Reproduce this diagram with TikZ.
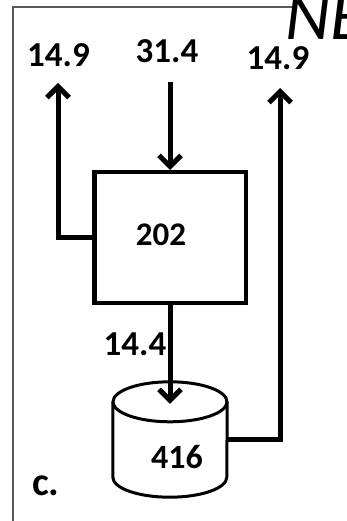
\documentclass[tikz,border=0pt]{standalone}
\usepackage{fontspec}
\setmainfont{Carlito}
\usetikzlibrary{arrows.meta}
\begin{document}
\begin{tikzpicture}[x=1pt,y=-1pt,
  lab/.style={font=\bfseries\fontsize{35}{35}\selectfont, inner sep=0pt, anchor=base},
  flow/.style={line width=5pt, -{Straight Barb[length=11pt,width=22pt]}},
  boxst/.style={draw, line width=4.5pt, minimum width=151.5pt, minimum height=130.5pt, inner sep=0pt},
]
\useasboundingbox (0,0) rectangle (347,521);
% frame
\draw[gray!70!black, line width=1.5pt] (13,521) -- (13,7) -- (295,7);
% title
\node[font=\itshape\fontsize{70}{70}\selectfont, anchor=base west, inner sep=0pt] (ne) at (285,40) {NE};
% process box
\node[boxst] (box) at (170,237.5) {};
\node[lab, font=\bfseries\fontsize{33}{33}\selectfont] (t202) at (161,245) {202};
% storage cylinder
\node[minimum width=114pt, minimum height=75pt, inner sep=0pt] (cyl) at (170,439.5) {};
\draw[line width=3pt, fill=white] (cyl.north west) -- (cyl.south west)
  arc[start angle=180, end angle=360, x radius=57pt, y radius=20pt] -- (cyl.north east);
\draw[line width=3pt] (cyl.north) ellipse [x radius=57pt, y radius=20pt];
\node[lab, font=\bfseries\fontsize{34}{34}\selectfont] (t416) at (177,468) {416};
% labels
\node[lab] (l1) at (58.5,67) {14.9};
\node[lab] (l2) at (167,63) {31.4};
\node[lab] (l3) at (278,70) {14.9};
\node[lab] (l4) at (135,355) {14.4};
\node[lab, anchor=base west, font=\bfseries\fontsize{40}{40}\selectfont] (lc) at (32,495) {c.};
% connector ends
\coordinate (e1) at (58,83);
\coordinate (s2) at (170,82);
\coordinate (e3) at (280,88);
% flows
\draw[flow] (box.west) -| (e1);
\draw[flow] (s2) -- (box.north);
\draw[flow] (box.south) -- ([yshift=-2pt]cyl.north);
\draw[flow] (cyl.east) -| (e3);
\end{tikzpicture}
\end{document}
